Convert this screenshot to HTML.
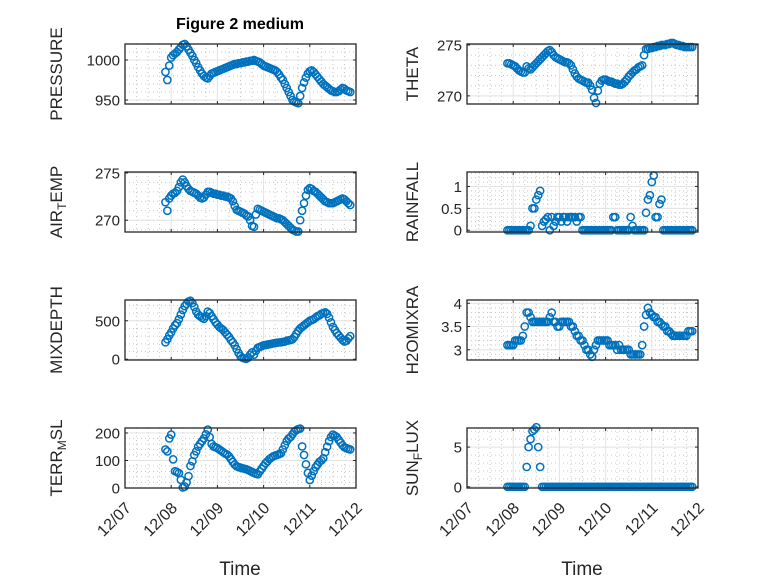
<!DOCTYPE html>
<html><head><meta charset="utf-8"><style>
body{margin:0;background:#fff}
svg{display:block;font-family:"Liberation Sans","DejaVu Sans",sans-serif}
</style></head><body>
<svg id="fig" width="778" height="583" viewBox="0 0 778 583">
<rect width="778" height="583" fill="#fff"/>
<text x="240" y="29" text-anchor="middle" font-size="16" font-weight="bold" fill="#000">Figure 2 medium</text>
<text x="240" y="575" text-anchor="middle" font-size="19" fill="#262626">Time</text>
<text x="582" y="575" text-anchor="middle" font-size="19" fill="#262626">Time</text>
</svg>
<script>
// time: hourly samples starting 21:00 on 12/07 (days after 12/07 00:00)
const tStart = 0.875;
const tStep = 1/24;
const xTickLabels = ["12/07","12/08","12/09","12/10","12/11","12/12"];
const pressure = [985,975,993,1003,1006,1008,1010,1013,1016,1019,1020,1017,1013,1009,1005,1000,996,991,987,983,980,978,977,980,983,984,985,986,987,988,989,990,991,992,993,994,995,995,996,996,997,997,998,998,999,999,1000,999,998,997,995,993,992,991,990,989,988,987,985,982,978,975,970,965,960,955,950,948,947,946,955,965,972,978,983,986,987,985,982,979,976,973,970,968,966,964,962,961,960,960,961,963,965,964,962,961,960];
const airTemp = [271.9,271.0,272.3,272.6,272.8,272.9,273.1,273.5,274.0,274.3,274.0,273.6,273.3,273.1,273.0,272.9,272.8,272.6,272.4,272.3,272.4,272.7,273.0,273.0,272.9,272.8,272.8,272.7,272.7,272.6,272.6,272.5,272.5,272.4,272.3,272.0,271.5,271.1,271.0,270.9,270.8,270.7,270.5,270.4,270.0,269.4,269.3,270.6,271.2,271.1,271.0,270.9,270.8,270.7,270.6,270.5,270.4,270.3,270.2,270.2,270.1,270.0,269.8,269.6,269.4,269.2,269.0,268.9,268.8,268.8,270.0,271.0,271.8,272.6,273.2,273.4,273.3,273.1,273.0,272.8,272.6,272.4,272.2,272.0,271.9,271.8,271.8,271.8,271.9,272.0,272.1,272.2,272.3,272.2,272.0,271.8,271.6];
const mixDepth = [220,260,310,350,400,440,470,520,580,640,690,720,750,760,730,680,620,580,560,540,525,560,620,600,560,520,480,450,420,400,380,350,320,290,250,220,180,130,80,40,20,10,5,20,60,90,60,110,150,160,170,180,185,190,195,200,205,210,215,218,220,225,230,240,245,250,260,290,330,370,400,420,440,460,480,500,510,520,540,560,570,590,600,610,590,540,480,420,380,340,310,280,250,230,240,270,300];
const terrMsl = [140,133,180,194,104,61,58,54,30,2,5,20,43,80,97,120,133,150,160,170,180,195,212,185,160,151,148,145,140,135,130,125,122,115,105,95,85,79,76,74,72,70,68,65,62,58,55,52,50,60,70,80,90,97,105,110,115,118,120,123,126,140,155,170,180,185,195,205,210,214,216,151,120,86,55,29,45,61,75,85,95,100,108,130,150,170,185,194,190,185,175,165,155,148,145,142,140];
const theta = [273.2,273.2,273.1,273.0,272.9,272.7,272.5,272.4,272.3,272.3,272.9,272.7,272.6,272.8,273.0,273.2,273.4,273.6,273.8,274.0,274.2,274.4,274.5,274.3,274.0,273.8,273.7,273.6,273.5,273.4,273.3,273.3,273.2,273.0,272.6,272.2,271.9,271.7,271.6,271.5,271.4,271.3,271.3,271.0,270.6,269.8,269.3,270.5,271.2,271.5,271.6,271.6,271.5,271.4,271.4,271.3,271.2,271.2,271.1,271.1,271.2,271.4,271.6,271.9,272.1,272.3,272.5,272.6,272.8,272.9,273.0,274.0,274.6,274.6,274.7,274.7,274.8,274.8,274.9,274.9,275.0,275.0,275.0,275.1,275.1,275.2,275.2,275.1,275.0,275.0,274.9,274.9,274.8,274.8,274.8,274.8,274.8];
const rainfall = [0,0,0,0,0,0,0,0,0,0,0,0,0.1,0.5,0.5,0.7,0.8,0.9,0.1,0.2,0.25,0.3,0,0.3,0.1,0.2,0.3,0.3,0.2,0.3,0.3,0.2,0.3,0.3,0.3,0.3,0.2,0.3,0.3,0,0,0,0,0,0,0,0,0,0,0,0,0,0,0,0,0.3,0.3,0,0,0,0,0,0,0,0.3,0.1,0,0,0,0,0,0,0.4,0.7,0.8,1.1,1.25,0.3,0.3,0.6,0.7,0,0,0,0,0,0,0,0,0,0,0,0,0,0,0,0];
const h2oMixRatio = [3.1,3.1,3.1,3.1,3.2,3.2,3.2,3.2,3.3,3.5,3.8,3.8,3.7,3.6,3.6,3.6,3.6,3.6,3.6,3.6,3.6,3.6,3.7,3.8,3.6,3.6,3.5,3.5,3.6,3.6,3.6,3.6,3.6,3.5,3.5,3.4,3.3,3.3,3.2,3.2,3.1,3.0,3.0,2.9,2.85,3.0,3.1,3.2,3.2,3.2,3.2,3.2,3.2,3.1,3.1,3.1,3.1,3.0,3.1,3.0,3.0,3.0,3.0,3.0,2.9,2.9,2.9,2.9,2.9,2.9,3.1,3.5,3.75,3.9,3.8,3.75,3.7,3.7,3.6,3.6,3.55,3.5,3.5,3.4,3.4,3.35,3.3,3.3,3.3,3.3,3.3,3.3,3.3,3.3,3.4,3.4,3.4];
const sunFlux = [0,0,0,0,0,0,0,0,0,0,2.5,5,6,7,7.2,7.5,5,2.5,0,0,0,0,0,0,0,0,0,0,0,0,0,0,0,0,0,0,0,0,0,0,0,0,0,0,0,0,0,0,0,0,0,0,0,0,0,0,0,0,0,0,0,0,0,0,0,0,0,0,0,0,0,0,0,0,0,0,0,0,0,0,0,0,0,0,0,0,0,0,0,0,0,0,0,0,0,0,0];
const pressureTicks = [950,1000];
const airTempTicks = [270,275];
const mixDepthTicks = [0,500];
const terrTicks = [0,100,200];
const thetaTicks = [270,275];
const rainTicks = [0,0.5,1];
const h2oTicks = [3,3.5,4];
const sunTicks = [0,5];

const NS="http://www.w3.org/2000/svg";
const svg=document.getElementById('fig');
function mk(tag,attrs,parent){const e=document.createElementNS(NS,tag);for(const k in attrs)e.setAttribute(k,attrs[k]);(parent||svg).appendChild(e);return e;}

const panels=[
 {name:'pressure',data:pressure,ticks:pressureTicks,ylim:[945,1020],minor:10,x:125,y:44,label:['PRESSURE'],lx:62},
 {name:'air-temp',data:airTemp,ticks:airTempTicks,ylim:[268.75,275.1],minor:1,x:125,y:172,label:['AIR','T','EMP'],lx:62},
 {name:'mixdepth',data:mixDepth,ticks:mixDepthTicks,ylim:[-10,770],minor:100,x:125,y:300,label:['MIXDEPTH'],lx:62},
 {name:'terr-msl',data:terrMsl,ticks:terrTicks,ylim:[0,218],minor:20,x:125,y:428,label:['TERR','M','SL'],lx:62},
 {name:'theta',data:theta,ticks:thetaTicks,ylim:[269.2,275.1],minor:1,x:467,y:44,label:['THETA'],lx:418},
 {name:'rainfall',data:rainfall,ticks:rainTicks,ylim:[-0.04,1.33],minor:0.1,x:467,y:172,label:['RAINFALL'],lx:418},
 {name:'h2omixra',data:h2oMixRatio,ticks:h2oTicks,ylim:[2.78,4.07],minor:0.1,x:467,y:300,label:['H2OMIXRA'],lx:418},
 {name:'sun-flux',data:sunFlux,ticks:sunTicks,ylim:[-0.15,7.4],minor:1,x:467,y:428,label:['SUN','F','LUX'],lx:418}
];
const W=231,H=60,XD=[0,5];

panels.forEach((p,pi)=>{
 const g=mk('g',{});
 
 
 const xs=d=>p.x+(d-XD[0])/(XD[1]-XD[0])*W;
 const ys=v=>p.y+H-(v-p.ylim[0])/(p.ylim[1]-p.ylim[0])*H;
 for(let d=XD[0];d<=XD[1]+1e-9;d+=0.25){
  if(Math.abs(d-Math.round(d))<1e-6) continue;
  mk('line',{x1:xs(d),x2:xs(d),y1:p.y,y2:p.y+H,stroke:'#c8c8c8','stroke-width':1,'stroke-dasharray':'1 3'},g);
 }
 const m0=Math.ceil(p.ylim[0]/p.minor)*p.minor;
 for(let v=m0;v<=p.ylim[1]+1e-9;v+=p.minor){
  mk('line',{x1:p.x,x2:p.x+W,y1:ys(v),y2:ys(v),stroke:'#c8c8c8','stroke-width':1,'stroke-dasharray':'1 3'},g);
 }
 for(let d=XD[0];d<=XD[1];d++){
  mk('line',{x1:xs(d),x2:xs(d),y1:p.y,y2:p.y+H,stroke:'#e3e3e3','stroke-width':1},g);
 }
 p.ticks.forEach(v=>{
  mk('line',{x1:p.x,x2:p.x+W,y1:ys(v),y2:ys(v),stroke:'#e3e3e3','stroke-width':1},g);
  const t=mk('text',{x:p.x-5,y:ys(v)+5.5,'text-anchor':'end','font-size':15,fill:'#262626'},g);
  t.textContent=String(v);
  
  
  mk('line',{x1:p.x,x2:p.x+3,y1:ys(v),y2:ys(v),stroke:'#262626'},g);
  mk('line',{x1:p.x+W-3,x2:p.x+W,y1:ys(v),y2:ys(v),stroke:'#262626'},g);
 });
 for(let d=XD[0];d<=XD[1];d++){
  mk('line',{x1:xs(d),x2:xs(d),y1:p.y+H-3,y2:p.y+H,stroke:'#262626'},g);
  mk('line',{x1:xs(d),x2:xs(d),y1:p.y,y2:p.y+3,stroke:'#262626'},g);
 }
 p.data.forEach((v,i)=>{
  const c=mk('circle',{cx:xs(tStart+i*tStep),cy:ys(v),r:3.6,fill:'none',stroke:'#0072BD','stroke-width':1.5},g);
  
  
 });
 mk('rect',{x:p.x,y:p.y,width:W,height:H,fill:'none',stroke:'#262626','stroke-width':1.3},g);
 const cy=p.y+H/2;
 const lab=mk('text',{x:p.lx,y:cy,'text-anchor':'middle','font-size':17,fill:'#262626',transform:`rotate(-90 ${p.lx} ${cy})`},g);
 
 
 p.label.forEach((s,k)=>{
  const ts=mk('tspan',{},lab);
  if(k===1){ts.setAttribute('font-size','12');ts.setAttribute('dy','4');}
  if(k===2){ts.setAttribute('dy','-4');}
  ts.textContent=s;
 });
 if(pi===3||pi===7){
  xTickLabels.forEach((s,d)=>{
   const ax=xs(d)+7, ay=p.y+H+21;
   const t=mk('text',{x:ax,y:ay,'text-anchor':'end','font-size':16,fill:'#262626',transform:`rotate(-45 ${ax} ${ay})`},g);
   t.textContent=s;
   
   
  });
 }
});
</script>
</body></html>
